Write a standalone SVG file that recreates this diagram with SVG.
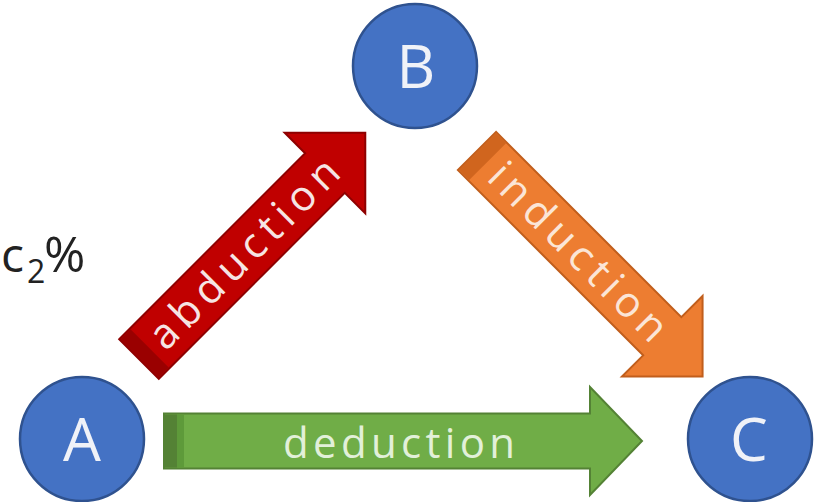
<svg xmlns="http://www.w3.org/2000/svg" width="819" height="502" viewBox="0 0 819 502">
<style>
.node circle{fill:#4472C4;stroke:#2F528F;stroke-width:2.5}
.node text{font-family:"Open Sans","Liberation Sans",sans-serif;font-size:60px;font-weight:500;fill:#F0F2F8;text-anchor:middle}
.lbl{font-family:"Open Sans","Liberation Sans",sans-serif;font-size:42px;font-weight:500;text-anchor:middle}
.red{fill:#C00000;stroke:#8E0000;stroke-width:2}
.org{fill:#ED7D31;stroke:#C15E1C;stroke-width:2}
.grn{fill:#70AD47;stroke:#548235;stroke-width:2}
</style>
<rect width="819" height="502" fill="#FFFFFF"/>
<text font-family="'Open Sans','Liberation Sans',sans-serif" font-weight="500" fill="#222222"><tspan x="1" y="272" font-size="48">c</tspan><tspan x="27" y="283" font-size="32">2</tspan><tspan x="44" y="272" font-size="50">%</tspan></text>
<g id="connectors">
<g id="abduction" transform="translate(139,359) rotate(-45)">
<path class="red" d="M0,-28 H263 V-57 L320,0 L263,57 V28 H0 Z"/>
<rect x="1" y="-27" width="14" height="54" fill="#9A0000"/>
<text class="lbl" x="149" y="14" textLength="250" lengthAdjust="spacing" fill="#F6E4E4">abduction</text>
</g>
<g id="induction" transform="translate(477,151) rotate(45)">
<path class="org" d="M0,-27 H262 V-57 L319,0 L262,57 V27 H0 Z"/>
<rect x="1" y="-26" width="14" height="52" fill="#D0651E"/>
<text class="lbl" x="143" y="14" textLength="234" lengthAdjust="spacing" fill="#FBE5D6">induction</text>
</g>
<g id="deduction">
<path class="grn" d="M164,413.5 H590 V387 L642,441 L590,495 V468.5 H164 Z"/>
<rect x="165" y="414.5" width="12" height="53" fill="#548235"/>
<rect x="177" y="414.5" width="7" height="53" fill="#5E9A3A"/>
<text class="lbl" x="399" y="458" textLength="232" lengthAdjust="spacing" fill="#E2F0D9">deduction</text>
</g>
</g>
<g id="node-A" class="node"><circle cx="82" cy="439" r="62"/><text x="82" y="461">A</text></g>
<g id="node-B" class="node"><circle cx="415" cy="66" r="62"/><text x="416" y="88">B</text></g>
<g id="node-C" class="node"><circle cx="750" cy="439" r="62"/><text x="749" y="461">C</text></g>
</svg>
